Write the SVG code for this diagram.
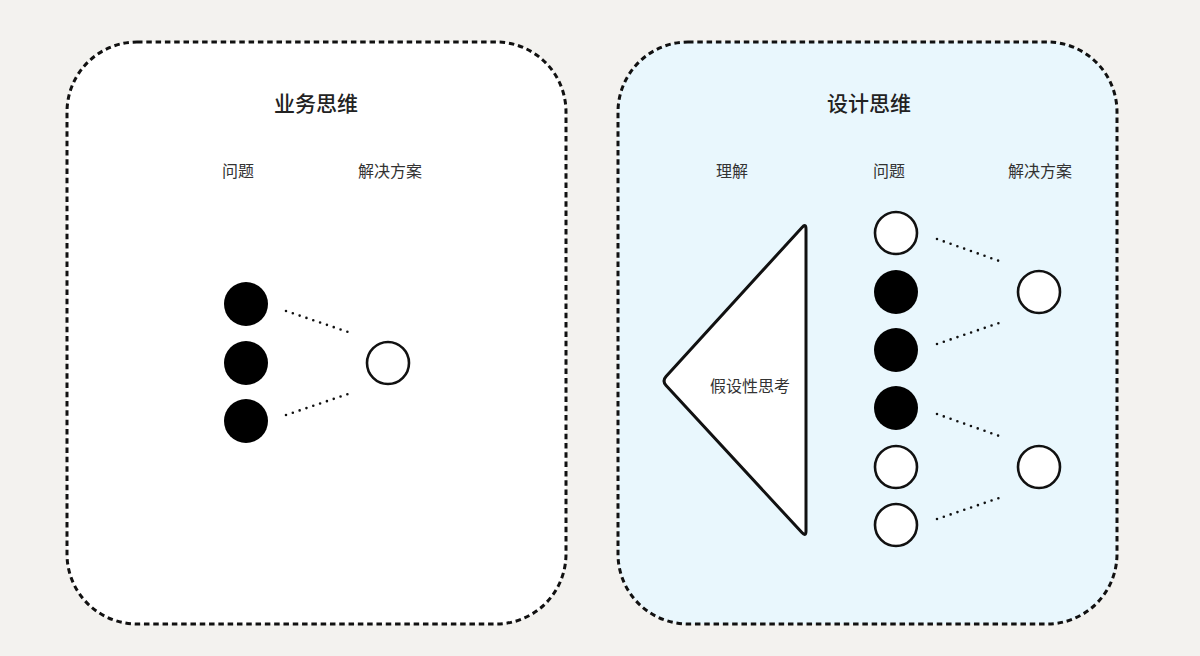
<svg xmlns="http://www.w3.org/2000/svg" width="1200" height="656" viewBox="0 0 1200 656">
<style>
.frame{stroke:#111;stroke-width:3;stroke-dasharray:5.5 3.8;}
.title{font-family:"Noto Sans CJK SC","Noto Sans",sans-serif;font-size:21px;font-weight:500;fill:#222;text-anchor:middle;}
.label{font-family:"Noto Sans CJK SC","Noto Sans",sans-serif;font-size:16px;fill:#333;text-anchor:middle;}
.open{fill:#fff;stroke:#111;stroke-width:2.6;}
.solid{fill:#000;}
.dots{stroke:#111;stroke-width:2.6;stroke-linecap:round;stroke-dasharray:0 7.2;fill:none;}
</style>
<rect width="1200" height="656" fill="#f3f2ef"/>
<g id="business">
<rect class="frame" x="67" y="42" width="499" height="582" rx="70" ry="70" fill="#ffffff"/>
<text class="title" x="316" y="111">业务思维</text>
<text class="label" x="238" y="177">问题</text>
<text class="label" x="390" y="177">解决方案</text>
</g>
<g id="b-problems">
<circle class="solid" cx="246" cy="304" r="22"/>
<circle class="solid" cx="246" cy="363" r="22"/>
<circle class="solid" cx="246" cy="421" r="22"/>
</g>
<g id="b-solution">
<circle class="open" cx="388" cy="363" r="21"/>
</g>
<g id="design">
<rect class="frame" x="618" y="42" width="499" height="582" rx="70" ry="70" fill="#e9f7fd"/>
<text class="title" x="869" y="111">设计思维</text>
<text class="label" x="732" y="177">理解</text>
<text class="label" x="889" y="177">问题</text>
<text class="label" x="1040" y="177">解决方案</text>
</g>
<g id="hypothesis">
<path d="M806 229 L806 531 Q806 537 801.9 532.6 L666.1 385.4 Q662 381 666 376.6 L802 227.4 Q806 223 806 229 Z" fill="#fff" stroke="#111" stroke-width="3" stroke-linejoin="round"/>
<text class="label" x="750" y="392">假设性思考</text>
</g>
<g id="d-problems">
<circle class="open" cx="896" cy="233" r="21"/>
<circle class="solid" cx="896" cy="292" r="22"/>
<circle class="solid" cx="896" cy="350" r="22"/>
<circle class="solid" cx="896" cy="408" r="22"/>
<circle class="open" cx="896" cy="467" r="21"/>
<circle class="open" cx="896" cy="525" r="21"/>
</g>
<g id="d-solutions">
<circle class="open" cx="1039" cy="292" r="21"/>
<circle class="open" cx="1039" cy="467" r="21"/>
</g>
<g id="connectors">
<line class="dots" x1="286" y1="311" x2="351" y2="333"/>
<line class="dots" x1="286" y1="415" x2="351" y2="393"/>
<line class="dots" x1="937" y1="239" x2="1002" y2="262"/>
<line class="dots" x1="937" y1="344" x2="1002" y2="322"/>
<line class="dots" x1="937" y1="414" x2="1002" y2="437"/>
<line class="dots" x1="937" y1="519" x2="1002" y2="497"/>
</g>
</svg>
